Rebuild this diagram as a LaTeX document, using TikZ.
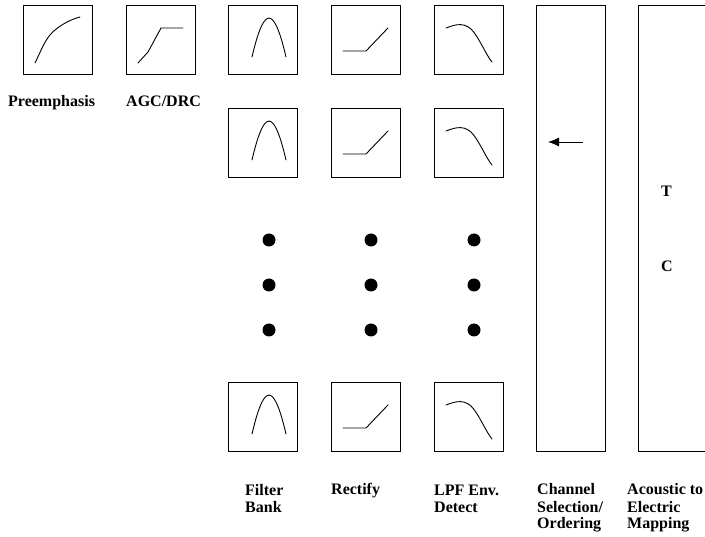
\documentclass[tikz,border=0pt]{standalone}
\usepackage{fontspec}
\setmainfont{Liberation Serif}
\usetikzlibrary{arrows.meta}
\begin{document}
\begin{tikzpicture}[x=1pt,y=-1pt,
  blockbox/.style={draw,line width=1.1pt,minimum width=69pt,minimum height=69pt,inner sep=0pt,anchor=north west},
  tallbox/.style={draw,line width=1.1pt,minimum width=69pt,minimum height=446pt,inner sep=0pt,anchor=north west},
  curve/.style={line width=0.9pt,line join=round,line cap=round},
  lbl/.style={font=\fontsize{16}{17}\selectfont\bfseries,align=left,inner sep=0pt,anchor=base west},
  dotmark/.style={circle,fill,minimum size=13pt,inner sep=0pt}]
\useasboundingbox (0,0) rectangle (705,537);
\clip (0,0) rectangle (705,537);
\fill[white] (0,0) rectangle (705,537);

% front-end blocks
\node[blockbox] (pre) at (23,5) {};
\node[blockbox] (agc) at (126,5) {};
\draw[curve] (35,63) .. controls (40,53) and (44,42) .. (50,35)
  .. controls (56,28) and (62,25) .. (67,22) .. controls (71,20) and (76,18) .. (80,17);
\draw[curve] (138,63) -- (148,52) -- (161,28) -- (183,28);

% channel rows: filter, rectifier, envelope detector
\foreach \r/\dy in {1/0,2/103,3/377}{
  \node[blockbox] (fb\r) at (228,5+\dy) {};
  \node[blockbox] (rc\r) at (331,5+\dy) {};
  \node[blockbox] (lp\r) at (434,5+\dy) {};
  \draw[curve] (252,57+\dy) .. controls (256,40+\dy) and (262,18+\dy) .. (269,18+\dy)
    .. controls (276,18+\dy) and (282,40+\dy) .. (286,57+\dy);
  \draw[curve] (343,51+\dy) -- (366,51+\dy) -- (388,28+\dy);
  \draw[curve] (446,28+\dy) .. controls (452,26+\dy) and (462,21+\dy) .. (471,29+\dy)
    .. controls (479,37+\dy) and (486,55+\dy) .. (492,62+\dy);
}

% ellipsis dots between rows
\foreach \c/\x in {a/269,b/371,c/474}{
  \foreach \k/\y in {1/240,2/285,3/330}{
    \node[dotmark] (dot\c\k) at (\x,\y) {};
  }
}

% selection and mapping stages
\node[tallbox] (sel) at (536,5) {};
\node[tallbox,minimum width=100pt] (map) at (638,5) {};
\coordinate (arrS) at (583,142);
\coordinate (arrE) at (548,142);
\draw[line width=0.9pt,-{Latex[length=11pt,width=9pt]}] (arrS) -- (arrE);
\node[lbl] (tl) at (661,197) {T};
\node[lbl] (cl) at (661,272) {C};

% labels (base anchor sits on the last line)
\node[lbl] (lpre) at (8,107) {Preemphasis};
\node[lbl] (lagc) at (126,107) {AGC/DRC};
\node[lbl] (lfb) at (245,512) {Filter\\Bank};
\node[lbl] (lrc) at (331,495) {Rectify};
\node[lbl] (llp) at (434,512) {LPF Env.\\Detect};
\node[lbl] (lsel) at (537,529) {Channel\\Selection/\\Ordering};
\node[lbl] (lmap) at (627,529) {Acoustic to\\Electric\\Mapping};
\end{tikzpicture}
\end{document}
